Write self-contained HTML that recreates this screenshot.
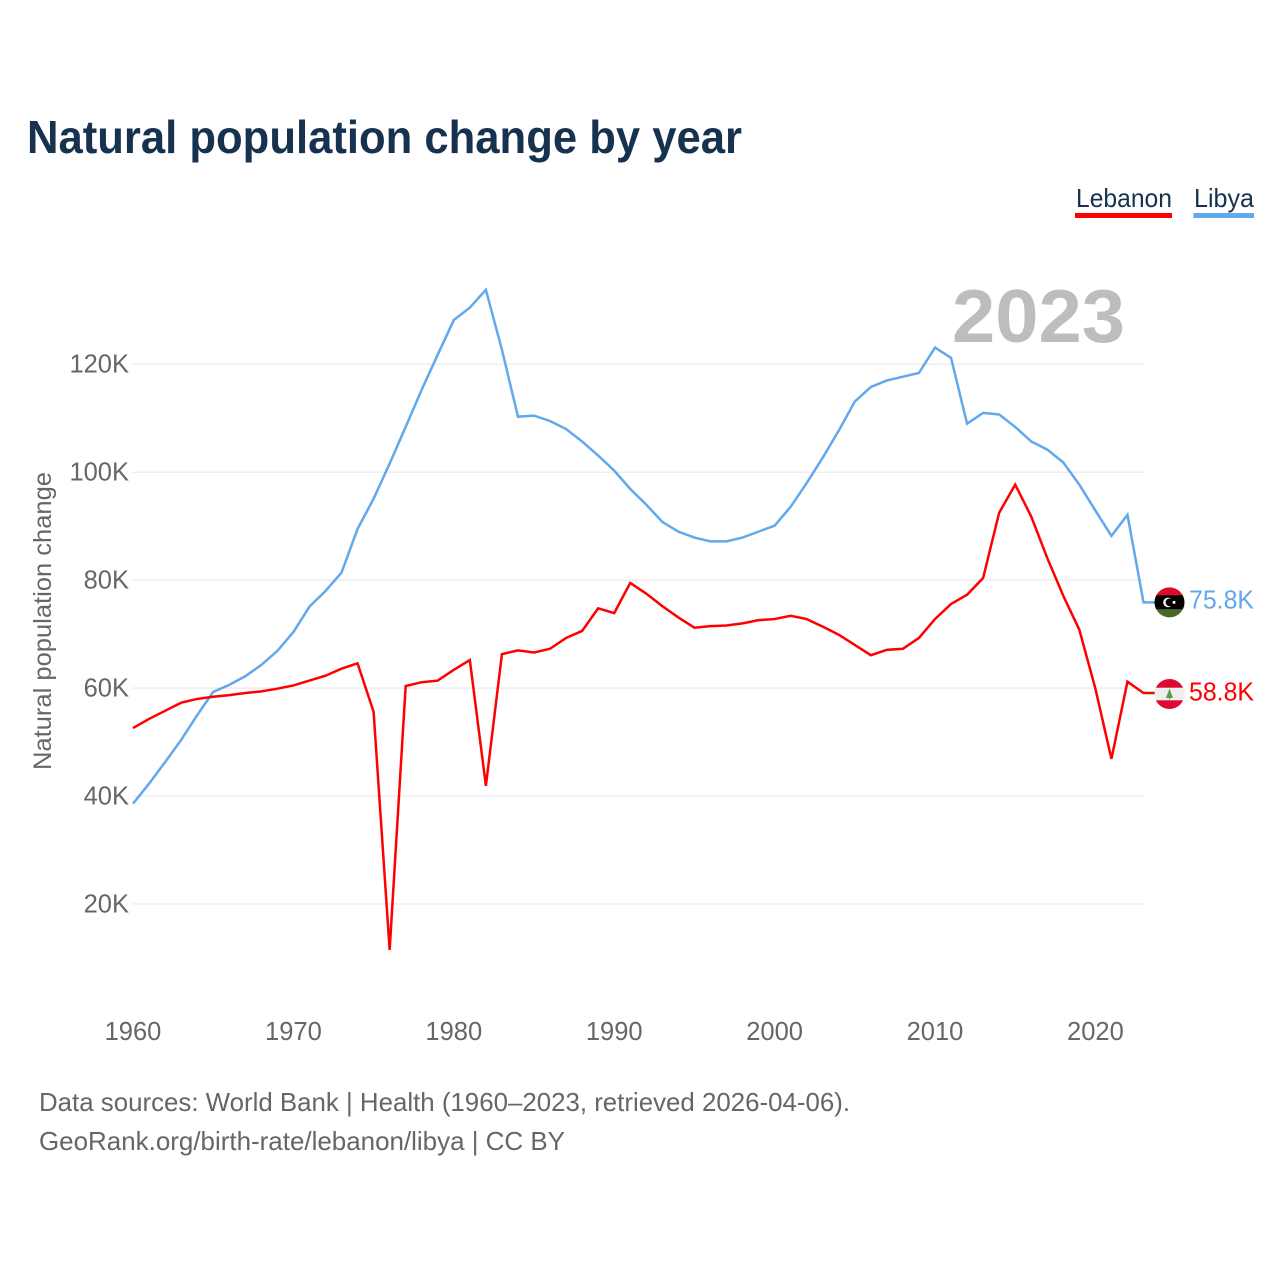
<!DOCTYPE html>
<html lang="en">
<head>
<meta charset="utf-8">
<title>Natural population change by year</title>
<style>
html,body{margin:0;padding:0;background:#fff;}
svg{display:block;font-family:"Liberation Sans",Arial,sans-serif;}
</style>
</head>
<body>
<svg id="chart" xmlns="http://www.w3.org/2000/svg" width="1280" height="1280" viewBox="0 0 1280 1280">
  <rect width="1280" height="1280" fill="#fff"/>
  <text x="27" y="153" font-size="46" font-weight="700" fill="#17324f" textLength="715" lengthAdjust="spacingAndGlyphs">Natural population change by year</text>

  <g>
    <text x="1076" y="207" font-size="26" fill="#17324f" textLength="96" lengthAdjust="spacingAndGlyphs">Lebanon</text>
    <rect x="1075" y="213" width="97" height="5" fill="#ff0000"/>
  </g>
  <g>
    <text x="1194" y="207" font-size="26" fill="#17324f" textLength="60" lengthAdjust="spacingAndGlyphs">Libya</text>
    <rect x="1193.5" y="213" width="60.5" height="5" fill="#62a8ec"/>
  </g>

  <g id="grid"></g>
  <g id="yTicks"></g>
  <g id="xTicks"></g>
  <text transform="translate(51,770) rotate(-90)" font-size="25" fill="#666" textLength="298" lengthAdjust="spacingAndGlyphs">Natural population change</text>
  <text x="1125" y="342" text-anchor="end" font-size="75" font-weight="700" fill="#bdbdbd" textLength="173" lengthAdjust="spacingAndGlyphs">2023</text>

  <g id="series"></g>

  <defs>
    <clipPath id="flagClipLibya"><circle cx="1169.5" cy="602.4" r="15"/></clipPath>
    <clipPath id="flagClipLebanon"><circle cx="1169.5" cy="694" r="15"/></clipPath>
  </defs>
  <g clip-path="url(#flagClipLibya)">
    <rect x="1154" y="587" width="31" height="8.4" fill="#dc0a26"/>
    <rect x="1154" y="595.2" width="31" height="14.2" fill="#000"/>
    <rect x="1154" y="609.3" width="31" height="9" fill="#466a26"/>
    <circle cx="1168" cy="602.4" r="4.8" fill="#fff"/>
    <circle cx="1169.5" cy="602.4" r="3.9" fill="#000"/>
    <circle cx="1174" cy="602.4" r="1.5" fill="#fff"/>
  </g>
  <g clip-path="url(#flagClipLebanon)">
    <rect x="1154" y="678" width="31" height="10" fill="#dc0a30"/>
    <rect x="1154" y="687.7" width="31" height="12.8" fill="#eeeeee"/>
    <rect x="1154" y="700.3" width="31" height="10" fill="#dc0a30"/>
    <polygon points="1169.5,688.5 1173,698 1166,698" fill="#5f9a45"/>
    <rect x="1169" y="697.5" width="1" height="2" fill="#5f9a45"/>
  </g>
  <text id="labelLibya" x="1254" y="608.5" text-anchor="end" font-size="26" fill="#62a8ec" textLength="65" lengthAdjust="spacingAndGlyphs"></text>
  <text id="labelLebanon" x="1254" y="700.5" text-anchor="end" font-size="26" fill="#ff0000" textLength="65" lengthAdjust="spacingAndGlyphs"></text>

  <text x="39" y="1111" font-size="26" fill="#666" textLength="811" lengthAdjust="spacingAndGlyphs">Data sources: World Bank | Health (1960–2023, retrieved 2026-04-06).</text>
  <text x="39" y="1150" font-size="26" fill="#666" textLength="526" lengthAdjust="spacingAndGlyphs">GeoRank.org/birth-rate/lebanon/libya | CC BY</text>
</svg>
<script>
const years = [1960,1961,1962,1963,1964,1965,1966,1967,1968,1969,1970,1971,1972,1973,1974,1975,1976,1977,1978,1979,1980,1981,1982,1983,1984,1985,1986,1987,1988,1989,1990,1991,1992,1993,1994,1995,1996,1997,1998,1999,2000,2001,2002,2003,2004,2005,2006,2007,2008,2009,2010,2011,2012,2013,2014,2015,2016,2017,2018,2019,2020,2021,2022,2023];
const libyaValues = [38.6,42.3,46.3,50.4,55,59.3,60.6,62.2,64.3,66.9,70.4,75.1,78,81.4,89.5,95.1,101.6,108.4,115.3,121.8,128.2,130.5,133.8,122.7,110.3,110.5,109.5,108,105.7,103.1,100.3,96.9,94,90.8,89,87.9,87.2,87.2,87.9,89,90.1,93.6,98,102.7,107.7,113.1,115.8,117,117.7,118.4,123.1,121.2,109,111,110.7,108.4,105.7,104.2,101.8,97.7,92.9,88.2,92.1,75.9];
const lebanonValues = [52.6,54.3,55.8,57.3,58,58.4,58.7,59.1,59.4,59.9,60.5,61.4,62.3,63.6,64.6,55.6,11.5,60.4,61.1,61.4,63.4,65.2,41.9,66.3,67,66.6,67.3,69.3,70.6,74.8,73.9,79.5,77.5,75.2,73.1,71.2,71.5,71.6,72,72.6,72.8,73.4,72.8,71.4,69.9,68,66.1,67.1,67.3,69.3,72.8,75.6,77.3,80.4,92.5,97.7,91.8,84.1,77.1,70.8,59.9,46.9,61.2,59.1];
const yTickValues = [20,40,60,80,100,120];
const yTickLabels = ["20K","40K","60K","80K","100K","120K"];
const xTickValues = [1960,1970,1980,1990,2000,2010,2020];
const endLabels = ["75.8K","58.8K"];

const NS = "http://www.w3.org/2000/svg";
const xScale = function (year) { return 133 + (year - 1960) * 16.04; };
const yScale = function (value) { return 1012 - value * 5.3975; };
const FLAG_X = 1155;

function make(tag, parent) {
  const el = document.createElementNS(NS, tag);
  parent.appendChild(el);
  return el;
}

const grid = document.getElementById("grid");
const yTicks = document.getElementById("yTicks");
const xTicks = document.getElementById("xTicks");
const series = document.getElementById("series");

yTickValues.forEach(function (v, i) {
  const line = make("line", grid);
  
  
  line.setAttribute("x1", 132.5);
  line.setAttribute("x2", 1144);
  line.setAttribute("y1", yScale(v));
  line.setAttribute("y2", yScale(v));
  line.setAttribute("stroke", "#eeeeee");
  line.setAttribute("stroke-width", "1.5");

  const label = make("text", yTicks);
  
  
  label.setAttribute("x", 129);
  label.setAttribute("y", yScale(v) + 8.2);
  label.setAttribute("text-anchor", "end");
  label.setAttribute("font-size", "25.5");
  label.setAttribute("fill", "#666");
  label.textContent = yTickLabels[i];
});

xTickValues.forEach(function (year) {
  const label = make("text", xTicks);
  
  
  label.setAttribute("x", xScale(year));
  label.setAttribute("y", 1040);
  label.setAttribute("text-anchor", "middle");
  label.setAttribute("font-size", "25.5");
  label.setAttribute("fill", "#666");
  label.textContent = String(year);
});

function drawSeries(values, color, name) {
  const pts = values.map(function (v, i) {
    return xScale(years[i]).toFixed(2) + "," + yScale(v).toFixed(2);
  });
  pts.push(FLAG_X + "," + yScale(values[values.length - 1]).toFixed(2));
  const line = make("polyline", series);
  
  
  line.setAttribute("points", pts.join(" "));
  line.setAttribute("fill", "none");
  line.setAttribute("stroke", color);
  line.setAttribute("stroke-width", "2.5");
  line.setAttribute("stroke-linejoin", "miter");
}

drawSeries(libyaValues, "#62a8ec", "libya-line");
drawSeries(lebanonValues, "#ff0000", "lebanon-line");

document.getElementById("labelLibya").textContent = endLabels[0];
document.getElementById("labelLebanon").textContent = endLabels[1];
</script>
</body>
</html>
